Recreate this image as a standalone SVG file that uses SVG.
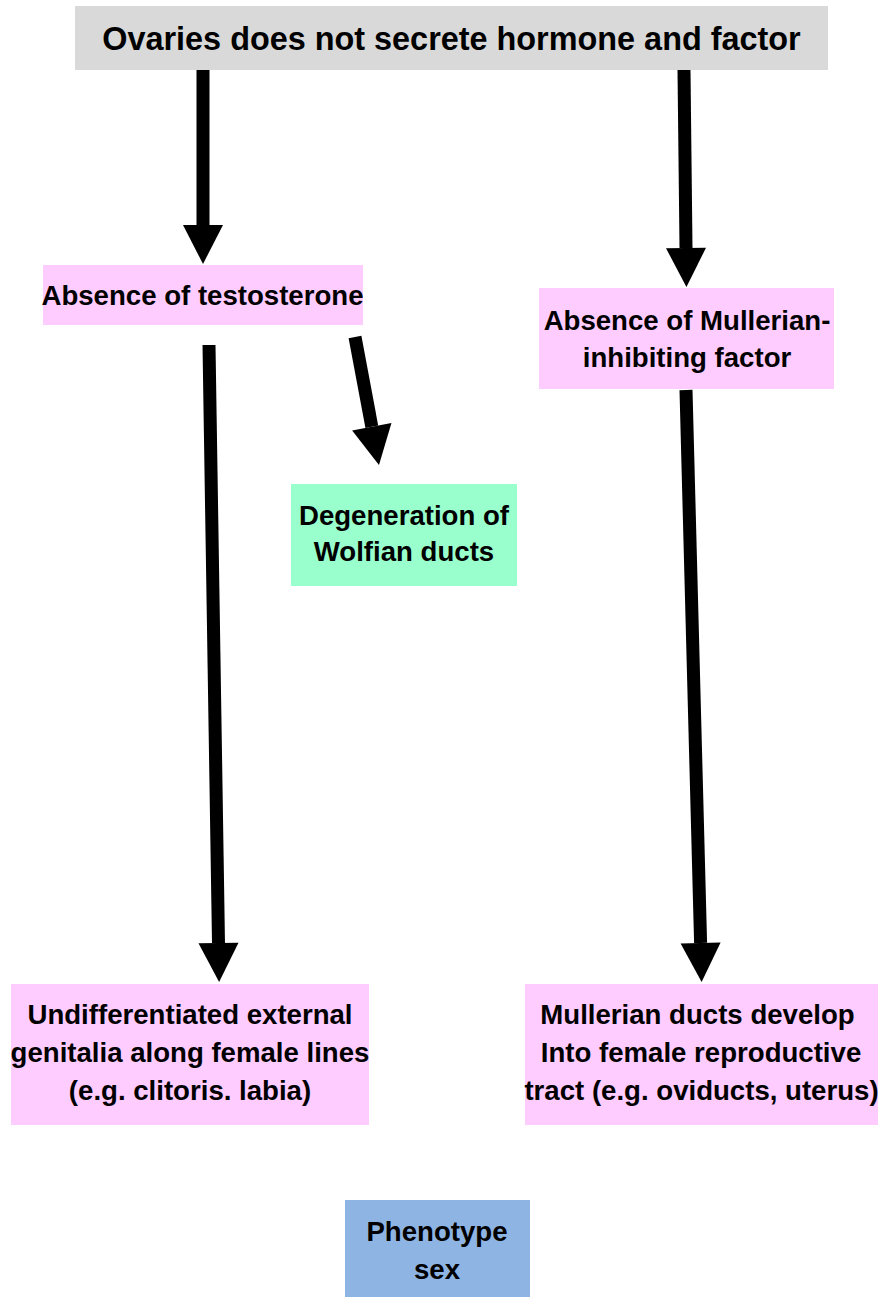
<svg xmlns="http://www.w3.org/2000/svg" width="883" height="1298" viewBox="0 0 883 1298">
<style>
text{font-family:"Liberation Sans",Arial,sans-serif;font-weight:bold;fill:#000;text-anchor:middle}
.t1{font-size:32.4px}
.t2{font-size:27.6px}
.pink{fill:#ffccff}
.conn{stroke:#000;stroke-width:13;fill:none}
</style>
<defs>
<marker id="ah" markerUnits="userSpaceOnUse" markerWidth="40" markerHeight="40" refX="0" refY="20" orient="auto" overflow="visible">
<path d="M0,0 L39,20 L0,40 z" fill="#000"/>
</marker>
</defs>
<rect width="883" height="1298" fill="#fff"/>
<g id="n-ovaries">
<rect x="75" y="6" width="753" height="64" fill="#d9d9d9"/>
<text class="t1" x="451.5" y="50">Ovaries does not secrete hormone and factor</text>
</g>
<g id="n-testosterone">
<rect class="pink" x="43" y="265" width="320" height="60"/>
<text class="t2" x="202.5" y="305">Absence of testosterone</text>
</g>
<g id="n-mif">
<rect class="pink" x="539" y="288" width="295" height="101"/>
<text class="t2" x="687" y="330">Absence of Mullerian-</text>
<text class="t2" x="687" y="367">inhibiting factor</text>
</g>
<g id="n-wolfian">
<rect x="291" y="484" width="226" height="102" fill="#99ffcc"/>
<text class="t2" x="404" y="525">Degeneration of</text>
<text class="t2" x="404" y="561">Wolfian ducts</text>
</g>
<g id="n-external">
<rect class="pink" x="11" y="984" width="358" height="141"/>
<text class="t2" x="190" y="1024">Undifferentiated external</text>
<text class="t2" x="190" y="1062">genitalia along female lines</text>
<text class="t2" x="190" y="1100">(e.g. clitoris. labia)</text>
</g>
<g id="n-mullerian">
<rect class="pink" x="525" y="984" width="353" height="141"/>
<text class="t2" x="697.5" y="1024">Mullerian ducts develop</text>
<text class="t2" x="701" y="1062">Into female reproductive</text>
<text class="t2" x="701.5" y="1100">tract (e.g. oviducts, uterus)</text>
</g>
<g id="n-phenotype">
<rect x="345" y="1200" width="185" height="97" fill="#8eb4e3"/>
<text class="t2" x="437" y="1241">Phenotype</text>
<text class="t2" x="437" y="1279">sex</text>
</g>
<g id="connectors">
<line class="conn" x1="203" y1="70" x2="203" y2="225" marker-end="url(#ah)"/>
<line class="conn" x1="684" y1="70" x2="686" y2="248" marker-end="url(#ah)"/>
<line class="conn" x1="355" y1="337" x2="371.8" y2="426.7" marker-end="url(#ah)"/>
<line class="conn" x1="209" y1="345" x2="218.5" y2="943" marker-end="url(#ah)"/>
<line class="conn" x1="686" y1="390" x2="700.6" y2="943" marker-end="url(#ah)"/>
</g>
</svg>
